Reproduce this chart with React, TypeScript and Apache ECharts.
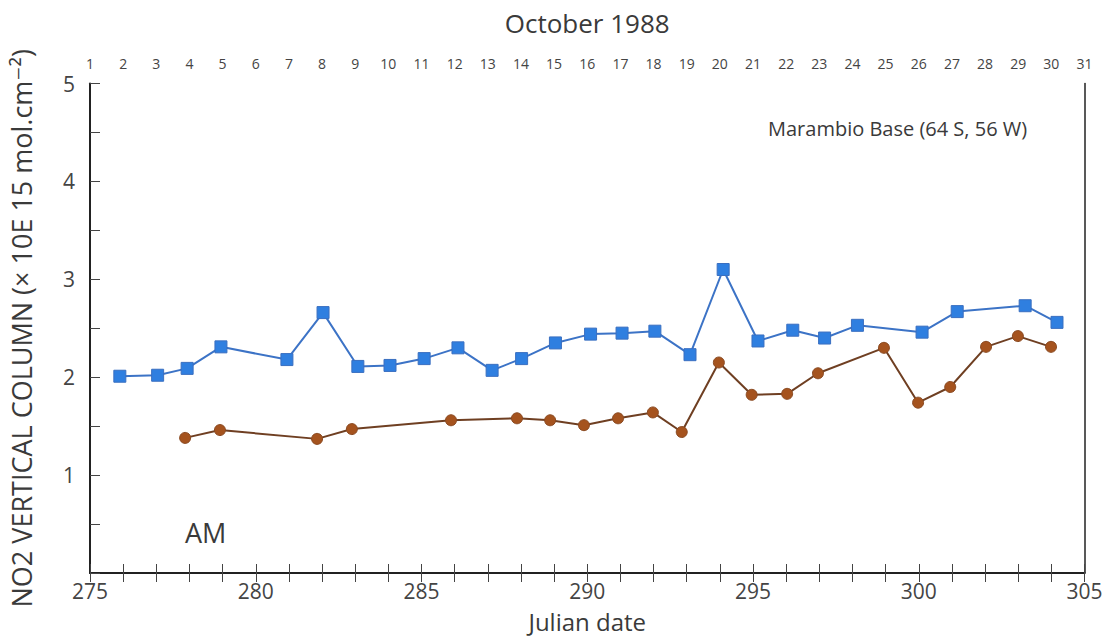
import React, { useEffect, useRef } from "react";
import * as echarts from "echarts";

const blueDays = [275.9, 277.04, 277.93, 278.95, 280.94, 282.03, 283.08, 284.05, 285.08, 286.1, 287.13, 288.02, 289.04, 290.1, 291.05, 292.04, 293.1, 294.1, 295.15, 296.2, 297.16, 298.15, 300.1, 301.16, 303.21, 304.17];
const blueValues = [2.01, 2.02, 2.09, 2.31, 2.18, 2.66, 2.11, 2.12, 2.19, 2.3, 2.07, 2.19, 2.35, 2.44, 2.45, 2.47, 2.23, 3.1, 2.37, 2.48, 2.4, 2.53, 2.46, 2.67, 2.73, 2.56];

const brownDays = [277.87, 278.92, 281.85, 282.9, 285.89, 287.88, 288.88, 289.9, 290.93, 291.98, 292.85, 293.97, 294.96, 296.03, 296.96, 298.95, 299.98, 300.95, 302.03, 302.99, 303.99];
const brownValues = [1.38, 1.46, 1.37, 1.47, 1.56, 1.58, 1.56, 1.51, 1.58, 1.64, 1.44, 2.15, 1.82, 1.83, 2.04, 2.3, 1.74, 1.9, 2.31, 2.42, 2.31];

const julianMin = 275;
const julianMax = 305;
const julianOfOct1 = 274;

const titleTop = "October 1988";
const xName = "Julian date";
const yName = "NO2 VERTICAL COLUMN (\u00D7 10E 15 mol.cm\u207B\u00B2)";
const stationText = "Marambio Base (64 S, 56 W)";
const amText = "AM";

const FONT = "'Open Sans', 'DejaVu Sans', sans-serif";
const TXT = "#3a3a3a";

export default function App() {
  const ref = useRef<HTMLDivElement>(null);
  useEffect(() => {
    if (!ref.current) return;
    const chart = echarts.init(ref.current, undefined, { renderer: "svg" });
    const zip = (xs: number[], ys: number[]) => xs.map((x, i) => [x, ys[i]]);
    chart.setOption({
      animation: false,
      backgroundColor: "#ffffff",
      textStyle: { fontFamily: FONT },
      grid: { left: 90, right: 27.5, top: 83.5, bottom: 65, outerBoundsMode: "none", containLabel: false },
      xAxis: [
        {
          type: "value",
          position: "bottom",
          min: julianMin,
          max: julianMax,
          interval: 1,
          name: xName,
          nameLocation: "middle",
          nameGap: 36,
          nameTextStyle: { fontSize: 24, color: TXT, fontFamily: FONT },
          axisLine: { show: true, lineStyle: { color: "#222", width: 2 } },
          axisTick: { show: true, inside: true, length: 9, lineStyle: { color: "#444", width: 1 } },
          axisLabel: {
            fontSize: 21,
            color: "#444",
            margin: 7,
            fontFamily: FONT,
            formatter: (v: number) => (v % 5 === 0 ? String(v) : ""),
          },
          splitLine: { show: false },
        },
        {
          type: "value",
          position: "top",
          min: julianMin,
          max: julianMax,
          interval: 1,
          name: titleTop,
          nameLocation: "middle",
          nameGap: 48,
          nameTextStyle: { fontSize: 26, color: TXT, fontFamily: FONT },
          axisLine: { show: true, lineStyle: { color: "#222", width: 1.5 } },
          axisTick: { show: true, inside: true, length: 9, lineStyle: { color: "#444", width: 1 } },
          axisLabel: {
            fontSize: 14,
            color: "#444",
            margin: 13,
            fontFamily: FONT,
            formatter: (v: number) => String(v - julianOfOct1),
          },
          splitLine: { show: false },
        },
      ],
      yAxis: [
        {
          type: "value",
          min: 0,
          max: 5,
          interval: 0.5,
          name: yName,
          nameLocation: "middle",
          nameGap: 55,
          nameTextStyle: { fontSize: 27, color: TXT, fontFamily: FONT },
          axisLine: { show: true, lineStyle: { color: "#222", width: 2 } },
          axisTick: { show: true, inside: true, length: 10, lineStyle: { color: "#444", width: 1 } },
          axisLabel: {
            fontSize: 21,
            color: "#444",
            margin: 15,
            fontFamily: FONT,
            formatter: (v: number) => (v > 0 && Number.isInteger(v) ? String(v) : ""),
          },
          splitLine: { show: false },
        },
        {
          type: "value",
          position: "right",
          min: 0,
          max: 5,
          interval: 0.5,
          axisLine: { show: true, lineStyle: { color: "#222", width: 1.5 } },
          axisTick: { show: false },
          axisLabel: { show: false },
          splitLine: { show: false },
        },
      ],
      series: [
        {
          type: "line",
          name: "blue",
          data: zip(blueDays, blueValues),
          symbol: "rect",
          symbolSize: 12,
          lineStyle: { color: "#3c73c6", width: 2 },
          itemStyle: { color: "#2f7fe0", borderColor: "#3a6fc0", borderWidth: 1 },
        },
        {
          type: "line",
          name: "brown",
          data: zip(brownDays, brownValues),
          symbol: "circle",
          symbolSize: 11,
          lineStyle: { color: "#6f3f22", width: 2 },
          itemStyle: { color: "#a5531e", borderColor: "#8a4a22", borderWidth: 1 },
        },
      ],
      graphic: [
        {
          type: "text",
          left: 768,
          top: 118,
          style: { text: stationText, fontSize: 20, fill: TXT, fontFamily: FONT },
        },
        {
          type: "text",
          left: 185,
          top: 519,
          style: { text: amText, fontSize: 27, fill: TXT, fontFamily: FONT },
        },
      ],
    });
    return () => chart.dispose();
  }, []);
  return (
    <div
      ref={ref}
      style={{ position: "fixed", left: 0, top: 0, width: 1112, height: 638, background: "#fff" }}
    />
  );
}
